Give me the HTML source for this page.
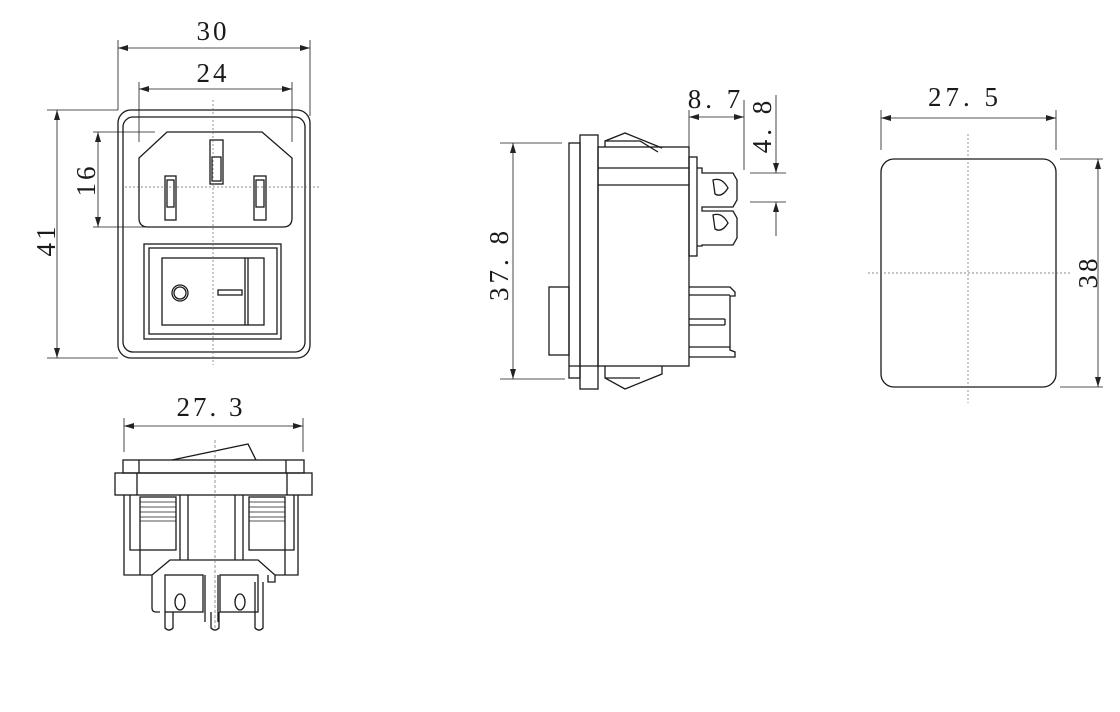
<!DOCTYPE html>
<html><head><meta charset="utf-8"><style>
html,body{margin:0;padding:0;background:#fff;}
svg{display:block;}
text{font-family:"Liberation Serif",serif;font-size:27px;fill:#1a1a1a;}
</style></head><body>
<svg width="1120" height="712" viewBox="0 0 1120 712" xmlns="http://www.w3.org/2000/svg">
<defs>
<marker id="a" viewBox="0 0 10 6" refX="10" refY="3" markerWidth="10" markerHeight="6" orient="auto-start-reverse" markerUnits="userSpaceOnUse"><path d="M0,0 L10,3 L0,6 z" fill="#222"/></marker>
</defs>
<g fill="none" stroke="#1a1a1a" stroke-width="1.3">
<!-- FRONT VIEW -->
<rect x="118" y="110" width="192" height="248" rx="13"/>
<rect x="123" y="117" width="182" height="235" rx="10"/>
<path d="M167,132 L262,132 L292,158 L292,218 Q292,227 283,227 L148,227 Q139,227 139,218 L139,158 Z"/>
<rect x="210" y="140" width="13" height="44"/>
<rect x="212" y="157" width="9" height="24"/>
<rect x="165" y="176" width="11" height="44"/>
<rect x="167" y="180" width="7" height="27"/>
<rect x="254" y="176" width="12" height="44"/>
<rect x="256" y="180" width="8" height="27"/>
<rect x="144" y="244" width="137" height="95"/>
<rect x="149" y="248" width="128" height="86"/>
<rect x="162" y="258" width="102" height="67"/>
<line x1="245" y1="258" x2="245" y2="325"/><line x1="248" y1="258" x2="248" y2="325"/>
<circle cx="180" cy="293" r="8"/><circle cx="180" cy="293" r="6"/>
<rect x="218" y="290" width="24" height="5"/>
<!-- dims front -->
<g stroke-width="0.8">
<line x1="118" y1="40" x2="118" y2="110"/><line x1="310" y1="40" x2="310" y2="116"/>
<line x1="118" y1="48" x2="310" y2="48" marker-start="url(#a)" marker-end="url(#a)"/>
<line x1="139" y1="82" x2="139" y2="142"/><line x1="292" y1="82" x2="292" y2="142"/>
<line x1="139" y1="89" x2="292" y2="89" marker-start="url(#a)" marker-end="url(#a)"/>
<line x1="47" y1="110" x2="118" y2="110"/><line x1="47" y1="358" x2="118" y2="358"/>
<line x1="57" y1="110" x2="57" y2="358" marker-start="url(#a)" marker-end="url(#a)"/>
<line x1="93" y1="132" x2="155" y2="132"/><line x1="93" y1="227" x2="148" y2="227"/>
<line x1="98" y1="132" x2="98" y2="227" marker-start="url(#a)" marker-end="url(#a)"/>
</g>
<g stroke-width="0.7" stroke-dasharray="2,2" stroke="#666">
<line x1="213" y1="100" x2="213" y2="365"/><line x1="125" y1="187" x2="320" y2="187"/>
</g>

<!-- BOTTOM VIEW -->
<rect x="123" y="460" width="181" height="13"/>
<line x1="139" y1="460" x2="139" y2="473"/><line x1="286" y1="460" x2="286" y2="473"/>
<polyline points="172,460 248,444 256,460"/>
<rect x="115" y="473" width="197" height="22"/>
<line x1="137" y1="473" x2="137" y2="495"/><line x1="287" y1="473" x2="287" y2="495"/>
<polyline points="124,495 124,575 152,575"/>
<polyline points="298,495 298,575 275,575"/>
<polyline points="130,495 130,550 140,550 140,575"/>
<polyline points="294,495 294,550 285,550 285,575"/>
<rect x="140" y="497" width="36" height="53"/>
<rect x="249" y="497" width="36" height="53"/>
<g stroke-width="0.8"><line x1="140" y1="502" x2="176" y2="502"/><line x1="140" y1="507" x2="176" y2="507"/><line x1="140" y1="512" x2="176" y2="512"/><line x1="140" y1="517" x2="176" y2="517"/><line x1="140" y1="521" x2="176" y2="521"/>
<line x1="249" y1="502" x2="285" y2="502"/><line x1="249" y1="507" x2="285" y2="507"/><line x1="249" y1="512" x2="285" y2="512"/><line x1="249" y1="517" x2="285" y2="517"/><line x1="249" y1="521" x2="285" y2="521"/></g>
<line x1="180" y1="495" x2="180" y2="560"/><line x1="188" y1="495" x2="188" y2="560"/>
<line x1="235" y1="495" x2="235" y2="560"/><line x1="243" y1="495" x2="243" y2="560"/>
<polyline points="152,575 170,560 258,560 275,575 275,582 268,582 268,575"/>
<path d="M152,575 L152,608 Q152,612 156,612 L160,612"/>
<rect x="165" y="575" width="38" height="37"/>
<rect x="220" y="575" width="38" height="37"/>
<line x1="205" y1="575" x2="205" y2="622"/><line x1="218" y1="575" x2="218" y2="622"/>
<ellipse cx="180" cy="602" rx="5" ry="8"/><ellipse cx="240" cy="602" rx="5" ry="8"/>
<path d="M165,612 L165,628 Q169,632 173,628 L173,612"/>
<path d="M211,612 L211,628 Q215,632 219,628 L219,612"/>
<path d="M255,582 L255,628 Q259,632 263,628 L263,582"/>
<g stroke-width="0.8">
<line x1="124" y1="418" x2="124" y2="452"/><line x1="303" y1="418" x2="303" y2="452"/>
<line x1="124" y1="426" x2="303" y2="426" marker-start="url(#a)" marker-end="url(#a)"/>
</g>
<line x1="215" y1="440" x2="215" y2="630" stroke-width="0.7" stroke-dasharray="3,2" stroke="#666"/>

<!-- SIDE VIEW -->
<rect x="580" y="135" width="18" height="254"/>
<rect x="569" y="143" width="11" height="235"/>
<line x1="569" y1="366" x2="598" y2="366"/>
<rect x="549" y="287" width="20" height="68"/>
<rect x="598" y="147" width="91" height="219"/>
<line x1="598" y1="168" x2="689" y2="168"/><line x1="598" y1="185" x2="689" y2="185"/>
<polyline points="605,147 605,141 625,133 662,148"/>
<polyline points="605,141 640,141 658,152"/>
<polyline points="605,366 605,378 625,389 662,374 662,366"/>
<polyline points="605,378 640,378"/>
<rect x="689" y="157" width="8" height="99"/>
<path d="M697,168 L702,168 L702,173 L733,173 L737,180 L737,200 L733,207 L702,207 L702,211 L733,211 L737,218 L737,238 L733,245 L702,245 L702,246 L697,246"/>
<path d="M713,180 Q722,177 728,188 Q722,198 715,194 Z"/>
<path d="M713,215 Q722,212 728,223 Q722,233 715,229 Z"/>
<polyline points="689,287 730,287 735,292 735,296 730,296 730,350 735,352 735,357 689,357"/>
<line x1="689" y1="295" x2="730" y2="295"/>
<line x1="689" y1="319" x2="725" y2="319"/><line x1="689" y1="325" x2="725" y2="325"/><line x1="725" y1="319" x2="725" y2="325"/>
<line x1="689" y1="347" x2="730" y2="347"/>
<g stroke-width="0.8">
<line x1="500" y1="143" x2="562" y2="143"/><line x1="500" y1="379" x2="565" y2="379"/>
<line x1="513" y1="143" x2="513" y2="379" marker-start="url(#a)" marker-end="url(#a)"/>
<line x1="689" y1="110" x2="689" y2="147"/><line x1="744" y1="100" x2="744" y2="170"/>
<line x1="689" y1="117" x2="744" y2="117" marker-start="url(#a)" marker-end="url(#a)"/>
<line x1="750" y1="173" x2="786" y2="173"/><line x1="750" y1="202" x2="786" y2="202"/>
<line x1="776" y1="95" x2="776" y2="173" marker-end="url(#a)"/>
<line x1="776" y1="236" x2="776" y2="202" marker-end="url(#a)"/>
</g>

<!-- RIGHT VIEW -->
<rect x="881" y="159" width="175" height="228" rx="13"/>
<g stroke-width="0.8">
<line x1="881" y1="110" x2="881" y2="150"/><line x1="1056" y1="110" x2="1056" y2="150"/>
<line x1="881" y1="118" x2="1056" y2="118" marker-start="url(#a)" marker-end="url(#a)"/>
<line x1="1060" y1="159" x2="1103" y2="159"/><line x1="1060" y1="387" x2="1103" y2="387"/>
<line x1="1098" y1="159" x2="1098" y2="387" marker-start="url(#a)" marker-end="url(#a)"/>
</g>
<g stroke-width="0.7" stroke-dasharray="2,2" stroke="#666">
<line x1="968" y1="134" x2="968" y2="403"/><line x1="868" y1="273" x2="1070" y2="273"/>
</g>
</g>

<text x="213" y="40" text-anchor="middle" letter-spacing="3">30</text>
<text x="213" y="82" text-anchor="middle" letter-spacing="3">24</text>
<text transform="translate(55,240) rotate(-90)" text-anchor="middle" letter-spacing="3">41</text>
<text transform="translate(95,180) rotate(-90)" text-anchor="middle" letter-spacing="3">16</text>
<text x="211" y="416" text-anchor="middle" letter-spacing="3">27. 3</text>
<text transform="translate(508,264) rotate(-90)" text-anchor="middle" letter-spacing="4">37. 8</text>
<text x="716" y="108" text-anchor="middle" letter-spacing="4">8. 7</text>
<text transform="translate(771,125) rotate(-90)" text-anchor="middle" letter-spacing="4">4. 8</text>
<text x="965" y="106" text-anchor="middle" letter-spacing="4">27. 5</text>
<text transform="translate(1097,272) rotate(-90)" text-anchor="middle" letter-spacing="3">38</text>
</svg>
</body></html>
